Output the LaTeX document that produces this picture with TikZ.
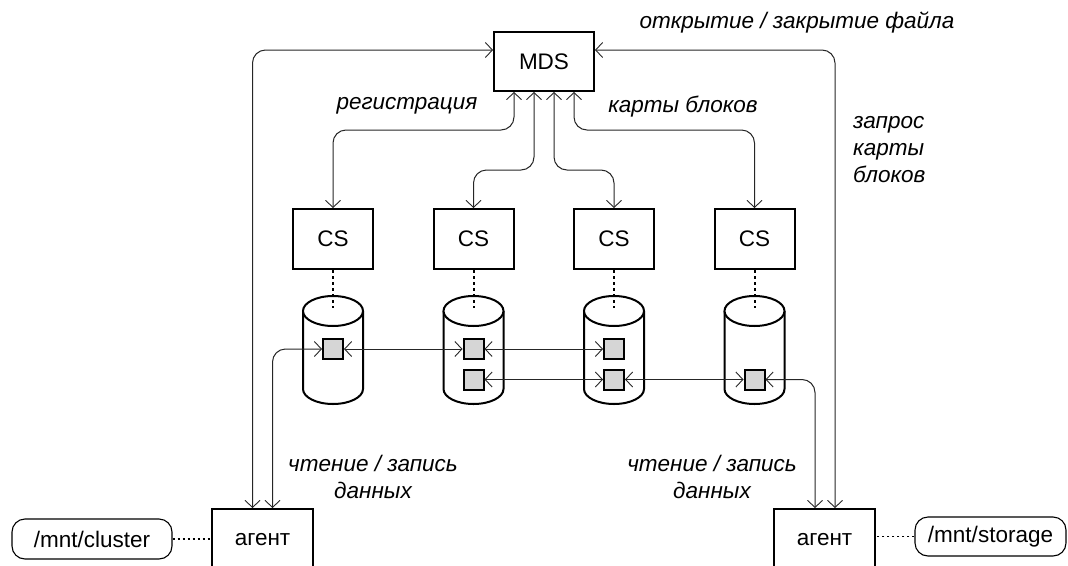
\documentclass[tikz,border=0pt]{standalone}
\usepackage{fontspec}
\setmainfont{Liberation Sans}
\usetikzlibrary{arrows.meta,calc}
\begin{document}
\begin{tikzpicture}[x=1pt,y=1pt,
  font=\fontsize{22.5}{27}\selectfont,
  >={Straight Barb[length=7pt,width=15pt,line width=0.9pt]},
  box/.style={draw,line width=2pt,inner sep=0pt,minimum width=80pt,minimum height=60pt},
  blk/.style={draw,line width=2pt,fill=black!16,inner sep=0pt,minimum size=20pt},
  mnt/.style={draw,line width=1.1pt,rounded corners=13pt,inner sep=0pt,minimum height=40pt},
  conn/.style={draw=black!85,line width=1pt,rounded corners=13pt},
  dots/.style={line width=2pt,dash pattern=on 3pt off 3pt},
  lbl/.style={font=\fontsize{22.5}{27}\selectfont\itshape,inner sep=0pt,align=center},
  cylw/.style={line width=2pt}]
\clip (0,0) rectangle (1068,-565);

% metadata server
\node[box,minimum width=100pt,minimum height=59pt] (mds) at (544,-61.5) {MDS};

% chunk servers with their disks
\foreach \c/\n in {333/1,473.5/2,614/3,754.5/4} {
  \node[box] (cs\n) at (\c,-239) {CS};
  \fill[white] (\c-30,-311) -- (\c-30,-389)
      arc[start angle=180,end angle=360,x radius=30,y radius=15] -- (\c+30,-311) -- cycle;
  \draw[cylw] (\c-30,-311) -- (\c-30,-389)
      arc[start angle=180,end angle=360,x radius=30,y radius=15] -- (\c+30,-311);
  \draw[cylw,fill=white] (\c,-311) ellipse[x radius=30,y radius=15];
  \coordinate (d\n) at (\c,-308);
  \draw[dots] (cs\n.south) -- (d\n);
}

% client agents and mount points
\node[box,minimum width=101pt,minimum height=62pt] (ag1) at (262.5,-540) {агент};
\node[box,minimum width=101pt,minimum height=62pt] (ag2) at (824.5,-540) {агент};
\node[mnt,minimum width=160pt] (mc) at (92,-539) {/mnt/cluster};
\node[mnt,minimum width=151pt,minimum height=39pt] (ms) at (990.5,-536.5) {/mnt/storage};
\draw[line width=1.5pt,dash pattern=on 2.5pt off 2.5pt] (mc.east) -- (ag1.west |- mc.east);
\draw[line width=1.5pt,dash pattern=on 2.5pt off 2.5pt] (ms.west) -- (ag2.east |- ms.west);

% agents <-> MDS
\draw[conn,<->] ($(mds.west)+(0,11.5)$) -| ($(ag1.north)+(-10,0)$);
\draw[conn,<->] ($(mds.east)+(0,11.5)$) -| ($(ag2.north)+(10.5,0)$);

% MDS <-> chunk servers
\draw[conn,<->] ($(mds.south)+(-30,0)$) -- ++(0,-38) -| (cs1.north);
\draw[conn,<->] ($(mds.south)+(-10,0)$) -- ++(0,-78) -| (cs2.north);
\draw[conn,<->] ($(mds.south)+(10,0)$) -- ++(0,-78) -| (cs3.north);
\draw[conn,<->] ($(mds.south)+(30,0)$) -- ++(0,-38) -| (cs4.north);

% data blocks
\node[blk] (b1) at (333,-349) {};
\node[blk] (b2a) at (473.5,-349) {};
\node[blk] (b2b) at (473.5,-379.5) {};
\node[blk] (b3a) at (614,-349) {};
\node[blk] (b3b) at (614,-379.5) {};
\node[blk] (b4) at (754.5,-379.5) {};

% data paths
\draw[conn,<->] ($(ag1.north)+(10,0)$) |- (b1.west);
\draw[conn,<->] (b1.east) -- (b2a.west);
\draw[conn,<->] (b2a.east) -- (b3a.west);
\draw[conn,<->] (b2b.east) -- (b3b.west);
\draw[conn,<->] (b3b.east) -- (b4.west);
\draw[conn,<->] (b4.east) -| ($(ag2.north)+(-9.5,0)$);

% labels
\node[lbl] (topen) at (797,-23) {открытие / закрытие файла};
\node[lbl] (treg) at (407,-106) {регистрация};
\node[lbl] (tmap) at (683,-107) {карты блоков};
\node[lbl,align=left,anchor=west] (treq) at (853,-150) {запрос\\карты\\блоков};
\node[lbl] (trw1) at (373,-476.5) {чтение / запись\\данных};
\node[lbl] (trw2) at (712,-477) {чтение / запись\\данных};
\end{tikzpicture}
\end{document}
